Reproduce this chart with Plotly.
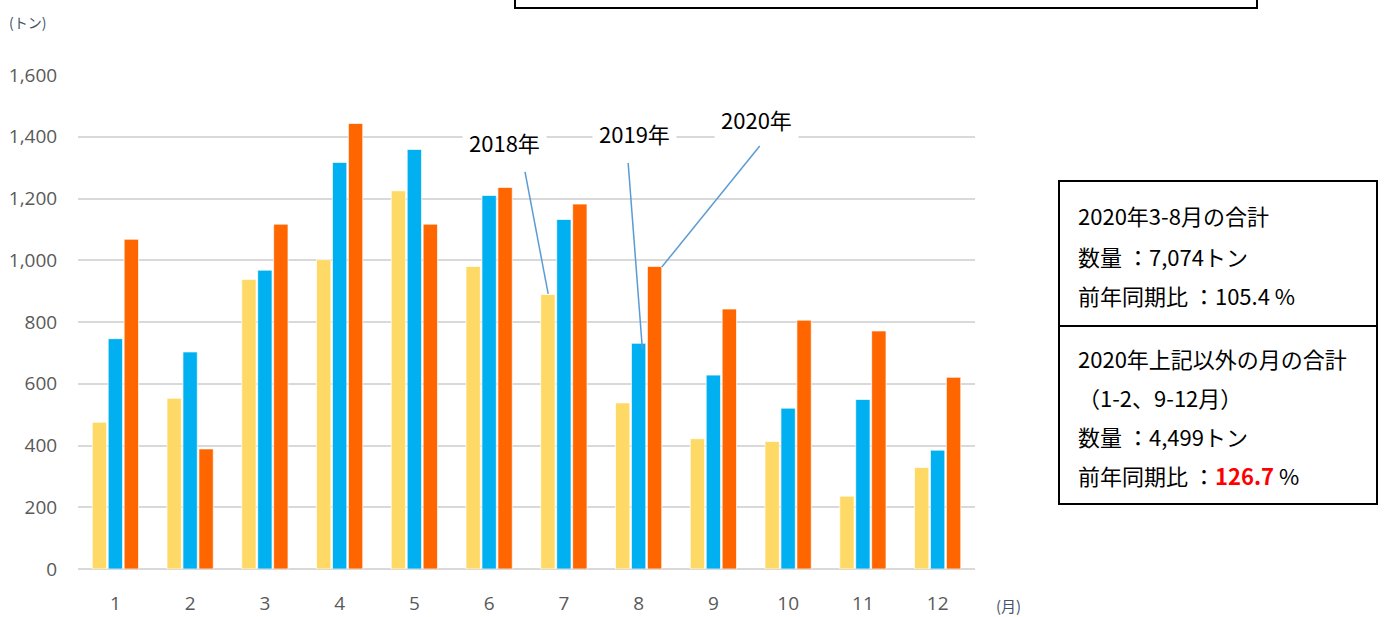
import plotly.graph_objects as go

months = [1, 2, 3, 4, 5, 6, 7, 8, 9, 10, 11, 12]
month_labels = ["1", "2", "3", "4", "5", "6", "7", "8", "9", "10", "11", "12"]
y2018 = [475, 553, 938, 1002, 1225, 980, 889, 538, 422, 413, 236, 329]
y2019 = [746, 703, 968, 1317, 1359, 1210, 1132, 731, 628, 521, 549, 385]
y2020 = [1068, 389, 1117, 1443, 1117, 1236, 1182, 980, 842, 806, 771, 621]
series_names = ["2018年", "2019年", "2020年"]
colors = ["#FFD966", "#00B0F0", "#FF6600"]
y_ticks = [0, 200, 400, 600, 800, 1000, 1200, 1400, 1600]

CJK = "Noto Sans CJK JP, sans-serif"
TICKF = "Open Sans, Noto Sans, sans-serif"

W0, W1 = 78, 975
H0, H1 = 75, 569


def px(x):
    return (x - W0) / (W1 - W0)


def py(y):
    return (H1 - y) / (H1 - H0)


fig = go.Figure()
for name, vals, col in zip(series_names, [y2018, y2019, y2020], colors):
    fig.add_trace(go.Bar(x=months, y=vals, name=name, marker_color=col,
                         marker_line=dict(color="rgba(255,255,255,0.7)", width=1)))

fig.update_layout(
    width=1392, height=617,
    margin=dict(l=W0, r=1392 - W1, t=H0, b=617 - H1, autoexpand=False),
    paper_bgcolor="white", plot_bgcolor="white",
    barmode="group", bargap=0.36, bargroupgap=0.1,
    showlegend=False,
    font=dict(family=CJK),
)
fig.update_xaxes(range=[0.5, 12.5], tickvals=months, ticktext=month_labels,
                 showgrid=False, zeroline=False, showline=False, automargin=False,
                 ticks="outside", ticklen=17, tickcolor="rgba(0,0,0,0)",
                 tickfont=dict(family=TICKF, size=19, color="#595959"))
fig.update_yaxes(range=[0, 1600], tickvals=y_ticks, tickformat=",",
                 showgrid=True, gridcolor="#D9D9D9", gridwidth=2, automargin=False,
                 zeroline=True, zerolinecolor="#D9D9D9", zerolinewidth=2,
                 showline=False, ticks="outside", ticklen=16, tickcolor="rgba(0,0,0,0)",
                 tickfont=dict(family=TICKF, size=19, color="#595959"))

# leader lines for series labels
leaders = [
    (6.48, 1286, 6.79, 891),
    (7.86, 1315, 8.05, 713),
    (9.62, 1370, 8.31, 978),
]
for x0, y0, x1, y1 in leaders:
    fig.add_shape(type="line", xref="x", yref="y", x0=x0, y0=y0, x1=x1, y1=y1,
                  line=dict(color="#5B9BD5", width=1.5))

label_pos = [(6.21, 1383), (7.94, 1412), (9.58, 1458)]
for name, (lx, ly) in zip(series_names, label_pos):
    fig.add_annotation(x=lx, y=ly, xref="x", yref="y", text=name, showarrow=False,
                       font=dict(family=CJK, size=22, color="#000000"),
                       bgcolor="white", borderpad=6)

# unit labels
fig.add_annotation(xref="paper", yref="paper", x=px(7), y=py(22), xanchor="left",
                   yanchor="middle", text="(トン)", showarrow=False,
                   font=dict(family=CJK, size=14, color="#44546A"))
fig.add_annotation(xref="paper", yref="paper", x=px(1008), y=py(605), xanchor="center",
                   yanchor="middle", text="(月)", showarrow=False,
                   font=dict(family=CJK, size=15, color="#44546A"))

# info boxes
fig.add_shape(type="rect", xref="paper", yref="paper", x0=px(1059), x1=px(1377),
              y0=py(504), y1=py(181), line=dict(color="black", width=2), fillcolor="white", layer="below")
fig.add_shape(type="line", xref="paper", yref="paper", x0=px(1059), x1=px(1377),
              y0=py(326), y1=py(326), line=dict(color="black", width=2))
# top banner box (cut off at top of the image)
fig.add_shape(type="rect", xref="paper", yref="paper", x0=px(515), x1=px(1257),
              y0=py(8), y1=py(-40), line=dict(color="black", width=2), fillcolor="white", layer="below")

box_lines = [
    (215, "2020年3-8月の合計"),
    (256, "数量 ：7,074トン"),
    (295, "前年同期比 ：105.4 %"),
    (358, "2020年上記以外の月の合計"),
    (397, "（1-2、9-12月）"),
    (436, "数量 ：4,499トン"),
    (475, "前年同期比 ：<b><span style='color:#FF0000'>126.7</span></b> %"),
]
for yy, txt in box_lines:
    fig.add_annotation(xref="paper", yref="paper", x=px(1076), y=py(yy), xanchor="left",
                       yanchor="middle", text=txt, showarrow=False,
                       font=dict(family=CJK, size=22, color="#000000"))

fig.write_html("out.html", config={"displayModeBar": False},
               post_script="document.body.style.margin='0';")
